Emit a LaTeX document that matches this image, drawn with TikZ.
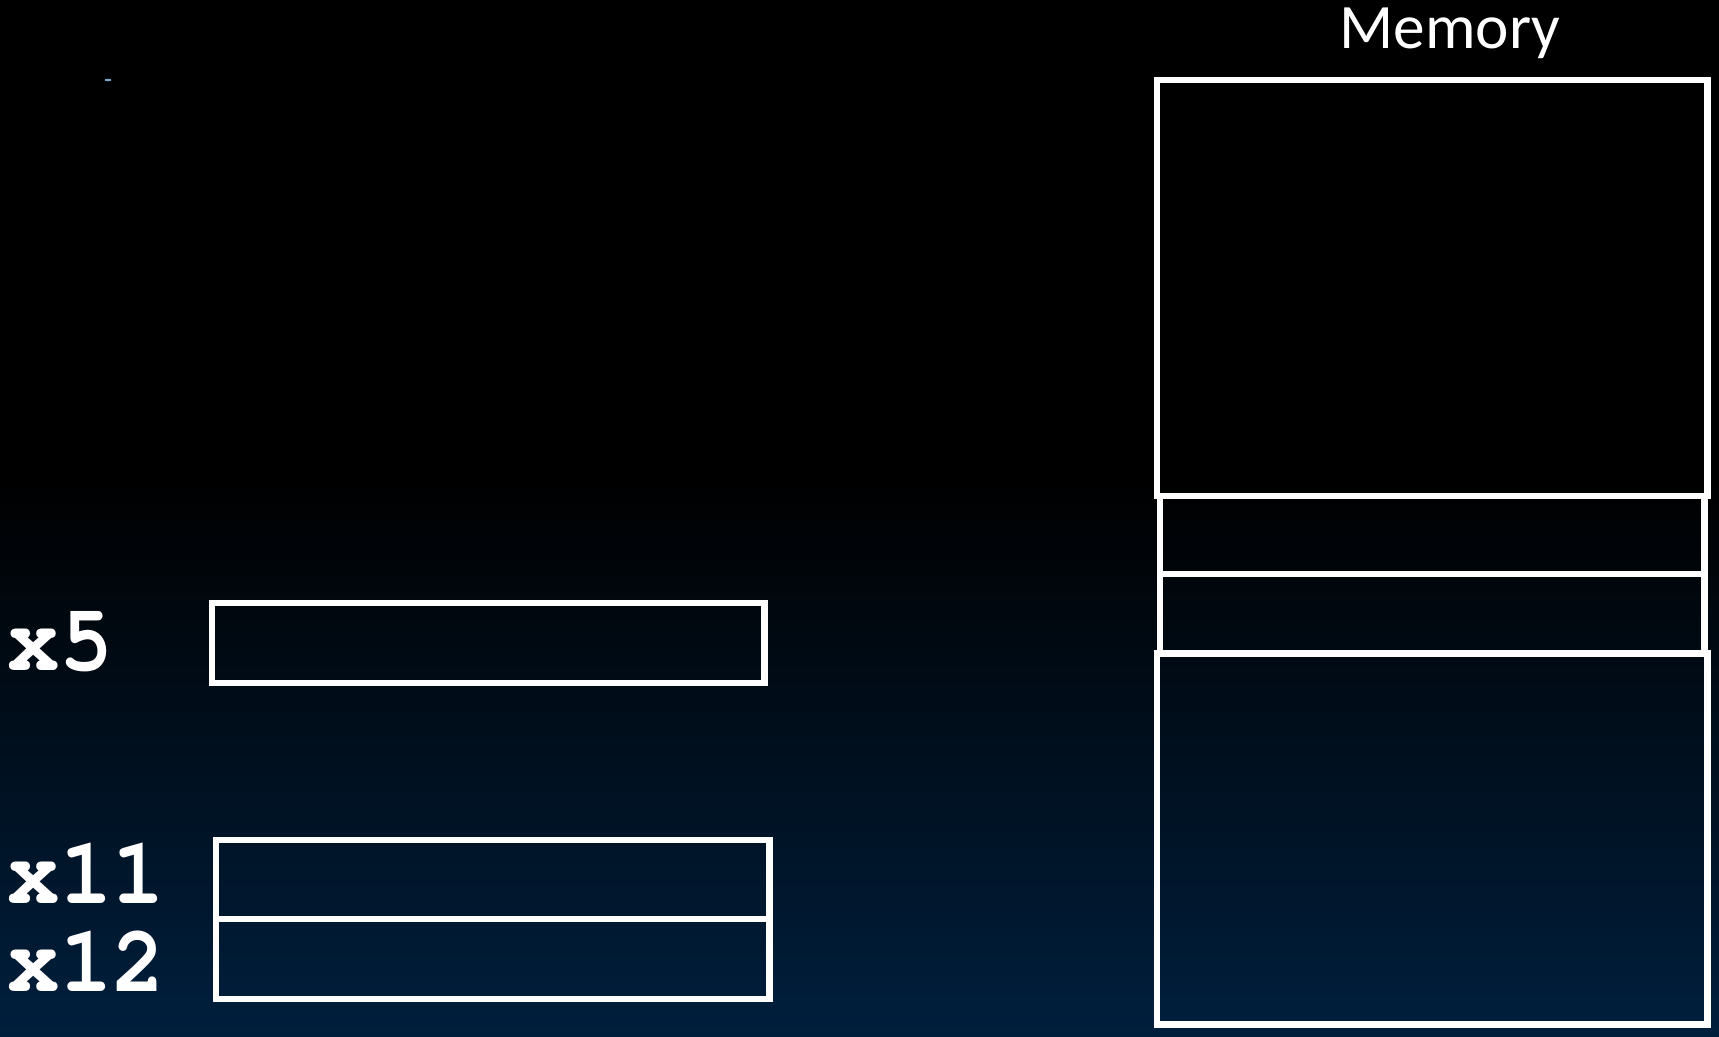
\documentclass[tikz,border=0pt]{standalone}
\usepackage{fontspec}
\setmainfont{Carlito}
\usetikzlibrary{positioning}

\definecolor{slidenavy}{RGB}{0,31,61}
\definecolor{specblue}{RGB}{120,170,210}

\newcommand{\regfont}{\fontencoding{T1}\fontfamily{pcr}\bfseries\fontsize{27}{27}\selectfont}

\tikzset{
    cell/.style={draw=white, line width=1.9pt, rectangle, inner sep=0pt, outer sep=0pt},
    reglabel/.style={text=white, font=\regfont, anchor=base west, inner sep=0pt, xscale=0.92},
}

\begin{document}
\begin{tikzpicture}[x=0.01cm, y=0.01cm]

    \useasboundingbox (0, 0) rectangle (1719, 1037);

    % background
    \fill[black] (0, 0) rectangle (1719, 1037);
    \shade[top color=black, bottom color=slidenavy] (0, 0) rectangle (1719, 560);
    \fill[specblue] (108, 957) ellipse (3.5 and 1.2);

    % memory
    \node[text=white, font=\fontsize{18}{18}\selectfont, anchor=base] (memtitle) at (1450, 988) {Memory};
    \node[cell, minimum width=5.5cm, minimum height=4.16cm] (mem1) at (1432, 749) {};
    \node[cell, minimum width=5.44cm, minimum height=0.78cm, below=0pt of mem1] (mem2) {};
    \node[cell, minimum width=5.44cm, minimum height=0.79cm, below=0pt of mem2] (mem3) {};
    \node[cell, minimum width=5.5cm, minimum height=3.71cm, below=0pt of mem3] (mem4) {};

    % registers
    \node[cell, minimum width=5.52cm, minimum height=0.80cm] (x5) at (488, 394) {};
    \node[cell, minimum width=5.53cm, minimum height=0.79cm] (x11) at (492.5, 157.5) {};
    \node[cell, minimum width=5.53cm, minimum height=0.80cm, below=0pt of x11] (x12) {};

    \node[reglabel] (x5label) at (7, 366) {x5};
    \node[reglabel] (x11label) at (7, 133) {x11};
    \node[reglabel] (x12label) at (7, 45) {x12};

\end{tikzpicture}
\end{document}
